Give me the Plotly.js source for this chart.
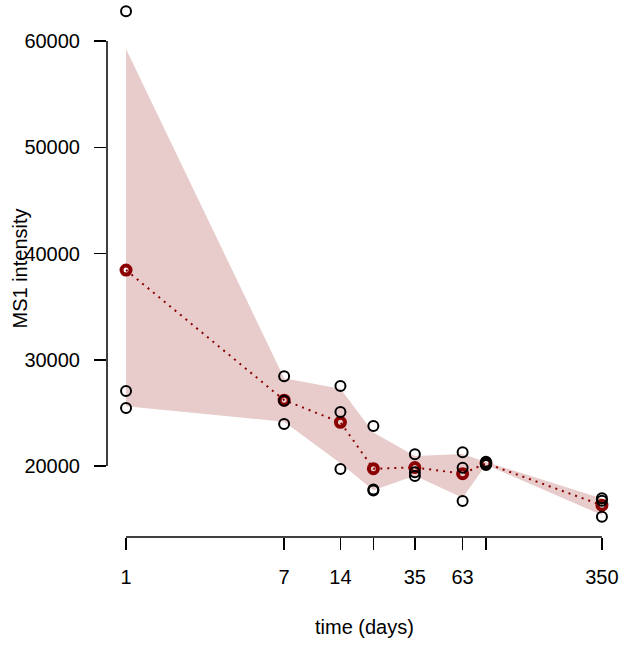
<!DOCTYPE html>
<html>
<head>
<meta charset="utf-8">
<script src="https://cdn.plot.ly/plotly-3.0.1.min.js"></script>
<style>html,body{margin:0;padding:0;background:#fff;}#plot{width:623px;height:647px;}</style>
</head>
<body>
<div id="plot"></div>
<script>
// time points (days)
const days = [1, 7, 14, 21, 35, 63, 84, 350];
const dayLabels = ['1', '7', '14', '', '35', '63', '', '350'];
// replicate MS1 intensities
const rep1 = [62800, 28450, 27530, 23760, 21100, 21290, 20400, 16960];
const rep2 = [27060, 26150, 25080, 17800, 19410, 19840, 20250, 16740];
const rep3 = [25460, 23950, 19720, 17700, 19060, 16700, 20100, 15230];
// mean per time point
const means = [38440, 26200, 24110, 19750, 19860, 19280, 20250, 16310];
// shaded band (lower / upper)
const bandLo = [25620, 24170, 20250, 17710, 19090, 17010, 20115, 15380];
const bandHi = [59250, 28270, 27280, 23160, 20930, 21140, 20385, 16940];
// y ticks
const yTicks = [20000, 30000, 40000, 50000, 60000];

const darkred = 'rgb(139,0,0)';
const fontFam = 'Liberation Sans, Arial, sans-serif';

const allX = [], allY = [];
[rep1, rep2, rep3].forEach(r => r.forEach((v, i) => { allX.push(days[i]); allY.push(v); }));

const traces = [
  {x: days, y: bandLo, mode: 'lines', line: {width: 0, color: 'rgba(0,0,0,0)'}, hoverinfo: 'skip', showlegend: false},
  {x: days, y: bandHi, mode: 'lines', line: {width: 0, color: 'rgba(0,0,0,0)'}, fill: 'tonexty',
   fillcolor: 'rgb(232,204,204)', hoverinfo: 'skip', showlegend: false},
  {x: days, y: means, mode: 'lines', line: {color: darkred, width: 2, dash: '2px,5px'}, showlegend: false},
  {x: days, y: means, mode: 'markers', marker: {symbol: 'circle-open', size: 9, color: darkred, line: {width: 4, color: darkred}}, showlegend: false},
  {x: allX, y: allY, mode: 'markers', marker: {symbol: 'circle-open', size: 10, color: 'black', line: {width: 2, color: 'black'}}, showlegend: false}
];

const layout = {
  width: 623, height: 647,
  margin: {l: 107, r: 2, t: 0, b: 110},
  paper_bgcolor: '#fff', plot_bgcolor: '#fff',
  font: {family: fontFam, size: 20, color: '#000'},
  showlegend: false,
  xaxis: {
    type: 'log', range: [-0.1018, 2.646],
    tickvals: days, ticktext: dayLabels,
    ticks: 'outside', ticklen: 12, tickwidth: 1.5, tickcolor: '#000',
    ticklabelstandoff: 10,
    showgrid: false, zeroline: false, showline: false
  },
  yaxis: {
    range: [13318, 63859],
    tickvals: yTicks, ticktext: yTicks.map(v => String(v)),
    ticks: 'outside', ticklen: 12, tickwidth: 1.5, tickcolor: '#000',
    ticklabelstandoff: 10,
    showgrid: false, zeroline: false, showline: false
  },
  annotations: [
    {text: 'time (days)', xref: 'paper', yref: 'paper', x: 0.5, y: 0, xanchor: 'center', yanchor: 'middle',
     yshift: -90, showarrow: false, font: {size: 20}},
    {text: 'MS1 intensity', xref: 'paper', yref: 'paper', x: 0, y: 0.5, xanchor: 'center', yanchor: 'middle',
     xshift: -88, textangle: -90, showarrow: false, font: {size: 20}}
  ],
  shapes: [
    {type: 'line', xref: 'x', yref: 'paper', x0: days[0], x1: days[days.length - 1], y0: 0, y1: 0, line: {color: '#000', width: 1.5}},
    {type: 'line', xref: 'paper', yref: 'y', x0: 0, x1: 0, y0: yTicks[0], y1: yTicks[yTicks.length - 1], line: {color: '#000', width: 1.5}}
  ]
};

Plotly.newPlot('plot', traces, layout, {displayModeBar: false, staticPlot: true});
</script>
</body>
</html>
